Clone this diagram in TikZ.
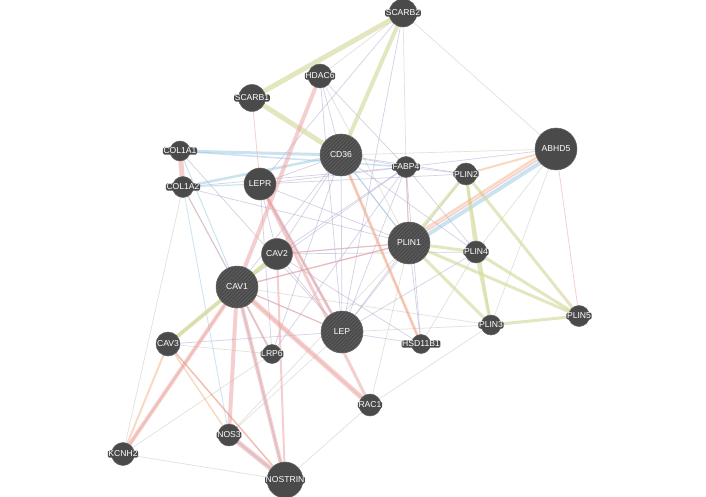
\documentclass[tikz,border=0pt]{standalone}
\usepackage{fontspec}
\setmainfont{Liberation Sans}
\usetikzlibrary{patterns.meta}
\definecolor{ng}{RGB}{74,74,74}
\definecolor{hatchc}{RGB}{98,98,98}
\definecolor{cphys}{RGB}{236,160,160}
\definecolor{ccoexp}{RGB}{168,164,204}
\definecolor{cdom}{RGB}{214,218,158}
\definecolor{cpred}{RGB}{242,182,136}
\definecolor{ccoloc}{RGB}{150,200,225}
\definecolor{cothr}{RGB}{200,196,180}
\pgfdeclarelayer{bg}
\pgfsetlayers{bg,main}
\begin{document}
\begin{tikzpicture}[x=1pt,y=-1pt,
  gene/.style={circle,fill=ng,draw=ng!85!white,line width=0.5pt,inner sep=0pt},
  hub/.style={gene,preaction={fill=ng},pattern={Lines[angle=45,distance=2.6pt,line width=0.7pt]},pattern color=hatchc},
  lbl/.style={text=white,font=\fontsize{8.6}{9}\selectfont,fill=ng,rounded corners=1.5pt,inner sep=0.6pt},
  hlbl/.style={text=white,font=\fontsize{8.6}{9}\selectfont,inner sep=0.6pt},
  edg/.style={line cap=round,draw opacity=0.5},
  phys/.style={edg,draw=cphys},
  coexp/.style={edg,draw=ccoexp},
  dom/.style={edg,draw=cdom,draw opacity=0.65},
  pred/.style={edg,draw=cpred},
  coloc/.style={edg,draw=ccoloc},
  othr/.style={edg,draw=cothr}]
\useasboundingbox (0,0) rectangle (706,497);
% nodes
\foreach \n/\x/\y/\r in {SCARB2/403/13/14, HDAC6/320/76/12, SCARB1/252/98/13.5,
  ABHD5/556/149/21, COL1A1/180/151/10, COL1A2/183/187/10.5, LEPR/260/184/16,
  FABP4/406/167/10.5, PLIN2/466/174/11, PLIN4/476/252/11, CAV2/277/254/15.5,
  PLIN3/491/325/10, PLIN5/579/316/10.5, CAV3/168/344/12, LRP6/272/354/9.5,
  HSD11B1/421/344/9.5, RAC1/370/405/11, NOS3/229/435/11, KCNH2/123/454/11.5,
  NOSTRIN/285/480/18}{
  \node[gene,minimum size=2*\r pt] (\n) at (\x,\y) {};
  \node[lbl] (\n-l) at (\x,\y) {\n};
}
\foreach \n/\x/\y in {CD36/341/155, PLIN1/409/243, CAV1/237/287, LEP/342/332}{
  \node[hub,minimum size=42pt] (\n) at (\x,\y) {};
  \node[hlbl] (\n-l) at (\x,\y) {\n};
}
\begin{pgfonlayer}{bg}
\fill[white] (0,0) rectangle (706,497);
% co-expression
\foreach \a/\b in {FABP4/CD36, FABP4/PLIN1, FABP4/LEP, FABP4/LEPR, FABP4/CAV1,
  FABP4/CAV2, FABP4/PLIN4, FABP4/PLIN2, FABP4/HSD11B1, FABP4/COL1A2, CD36/PLIN1,
  CD36/LEP, CD36/LEPR, CD36/PLIN2, CD36/CAV1, CD36/CAV2, CD36/LRP6, PLIN1/LEP,
  PLIN1/LEPR, PLIN1/CAV1, PLIN1/CAV2, PLIN1/HSD11B1, PLIN1/COL1A2, LEP/LEPR,
  LEP/CAV1, LEP/HSD11B1, LEP/CAV2, LEP/PLIN4, LEP/PLIN2, HDAC6/CD36, HDAC6/FABP4,
  HDAC6/LEP, SCARB2/LEPR, SCARB2/LEP, LEPR/CAV2, LEPR/LRP6, CAV3/LEP, PLIN2/LEPR,
  ABHD5/FABP4, PLIN4/CAV2, HSD11B1/CAV2, LEP/COL1A1, FABP4/LRP6, CD36/PLIN4}
  \draw[coexp,line width=0.7pt] (\a) -- (\b);
% other thin
\foreach \a/\b in {SCARB2/FABP4, SCARB2/ABHD5, SCARB2/HDAC6, ABHD5/CD36,
  ABHD5/PLIN3, ABHD5/PLIN4, KCNH2/NOSTRIN, KCNH2/LRP6, RAC1/NOSTRIN, RAC1/PLIN3,
  RAC1/PLIN1, NOS3/LEP, PLIN3/LEP, HSD11B1/PLIN4, NOS3/PLIN1, CAV1/PLIN3,
  HDAC6/PLIN1, COL1A2/KCNH2, CAV3/LRP6}
  \draw[othr,line width=0.7pt] (\a) -- (\b);
% co-localization / pathway
\foreach \a/\b/\w in {COL1A1/CD36/3, COL1A2/CD36/2.5, COL1A1/FABP4/1.5,
  COL1A1/CAV1/1, COL1A2/CAV1/1, NOS3/NOSTRIN/2, CAV1/NOSTRIN/1.5,
  CAV1/LRP6/1, COL1A2/NOS3/0.8, COL1A2/LEPR/1.2, CD36/PLIN1/1, LEPR/LEP/1}
  \draw[coloc,line width=\w pt] (\a) -- (\b);
\draw[coloc,line width=4pt] ([shift={(1.6,2.6)}]ABHD5.center) -- ([shift={(1.6,2.6)}]PLIN1.center);
% shared protein domains
\foreach \a/\b/\w in {SCARB2/SCARB1/5, SCARB2/CD36/4, SCARB1/CD36/5,
  PLIN1/PLIN2/3, PLIN1/PLIN4/3, PLIN1/PLIN3/3, PLIN1/PLIN5/3, PLIN2/PLIN4/3,
  PLIN2/PLIN3/2, PLIN2/PLIN5/3, PLIN4/PLIN3/3, PLIN4/PLIN5/3, PLIN3/PLIN5/3,
  CAV1/CAV2/4, CAV1/CAV3/4, CAV2/CAV3/2.5}
  \draw[dom,line width=\w pt] (\a) -- (\b);
% predicted
\foreach \a/\b/\w in {ABHD5/PLIN2/2, CD36/HSD11B1/3,
  CAV3/KCNH2/2, CAV3/NOS3/1.5, CAV3/NOSTRIN/1.2, CAV1/KCNH2/1.5, CAV1/RAC1/1.2}
  \draw[pred,line width=\w pt] (\a) -- (\b);
\draw[pred,line width=2.5pt] ([shift={(-1.8,-2.8)}]ABHD5.center) -- ([shift={(-1.8,-2.8)}]PLIN1.center);
% physical interactions
\foreach \a/\b/\w in {HDAC6/CAV1/4, COL1A1/COL1A2/5, LEPR/LEP/3, LEPR/RAC1/3,
  CAV1/RAC1/5, CAV1/NOS3/4, CAV1/NOSTRIN/4, NOS3/NOSTRIN/5, CAV1/KCNH2/4,
  CAV1/LRP6/2, CAV2/NOSTRIN/2, CAV1/LEP/1.2, CAV1/PLIN1/1.5, CAV2/PLIN1/1.2,
  COL1A2/CAV1/1, ABHD5/PLIN5/0.8, FABP4/PLIN1/1,
  SCARB1/LEPR/0.8, CD36/HSD11B1/1.2, CAV3/NOSTRIN/1.5}
  \draw[phys,line width=\w pt] (\a) -- (\b);
\draw[phys,line width=1.5pt] ([shift={(-0.4,-0.6)}]ABHD5.center) -- ([shift={(-0.4,-0.6)}]PLIN1.center);
\end{pgfonlayer}
\end{tikzpicture}
\end{document}
